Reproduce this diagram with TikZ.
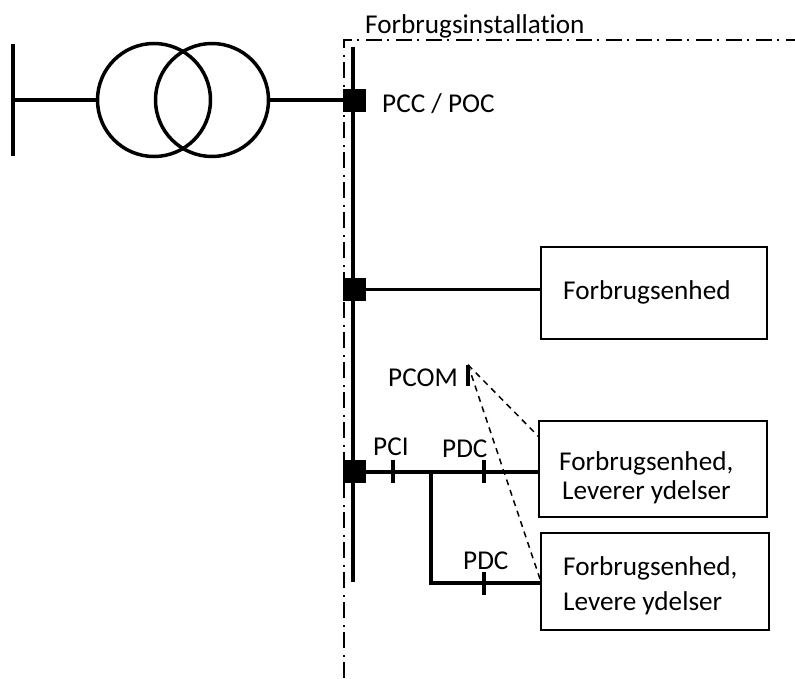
\documentclass[tikz,border=0pt]{standalone}
\usepackage{fontspec}
\setmainfont{Carlito}[Ligatures=CommonOff]
\tikzset{%
    bar/.style = {line width=4pt},
    thinbar/.style = {line width=3.5pt},
    boundary/.style = {line width=1.5pt, dash pattern=on 16pt off 5pt on 2pt off 7pt},
    signal/.style = {line width=1.5pt, dash pattern=on 6pt off 5pt},
    winding/.style = {circle, draw, line width=3.5pt, minimum size=113pt, inner sep=0pt},
    junction/.style = {rectangle, fill=black, minimum size=23pt, inner sep=0pt},
    tick/.style = {rectangle, fill=black, minimum width=3.5pt, minimum height=23pt, inner sep=0pt},
    unit/.style = {rectangle, draw, line width=2pt, inner sep=0pt},
    caption/.style = {anchor=base west, inner sep=0pt, font=\fontsize{27.2}{29}\selectfont, align=left},
}
\begin{document}
\begin{tikzpicture}[x=1pt, y=-1pt]
        \useasboundingbox (0,0) rectangle (795,679);

        % Nodes position
        \node (tfLeft)        [winding] at (154,100) {};
        \node (tfRight)       [winding, right of=tfLeft, node distance=58pt] {};

        \node (pcc)           [junction] at (354.5,100.5) {};
        \node (load)          [junction, below of=pcc, node distance=189pt] {};
        \node (pci)           [junction, below of=load, node distance=182pt] {};

        \node (unitLoad)      [unit, minimum width=226pt, minimum height=92pt] at (654,293) {};
        \node (unitFirst)     [unit, minimum width=228pt, minimum height=96pt] at (653,469) {};
        \node (unitSecond)    [unit, minimum width=228pt, minimum height=97pt] at (655,581.5) {};

        \node (pciTick)       [tick, right of=pci, node distance=38.5pt] {};
        \node (pdcTick)       [tick, right of=pciTick, node distance=91pt] {};
        \node (pdcLowTick)    [tick, below of=pdcTick, node distance=112pt] {};
        \node (pcomTick)      [tick, minimum height=21pt] at (468,375.5) {};

        \coordinate (gridTop)    at (13,44);
        \coordinate (gridBottom) at (13,156);
        \coordinate (busTop)     at (353,47);
        \coordinate (busBottom)  at (353,582);
        \coordinate (branch)     at (431,472);
        \coordinate (branchEnd)  at (431,583);
        \coordinate (fenceEnd)   at (344,678);
        \coordinate (fenceCorner) at (344,40);
        \coordinate (fenceRight) at (795,40);
        \coordinate (signalOne)  at (539,437);
        \coordinate (signalTwo)  at (541,582);

        % Texts
        \node (installText)   [caption] at (365,34) {Forbrugsinstallation};
        \node (pccText)       [caption] at (382,113) {PCC / POC};
        \node (loadText)      [caption] at (563,299) {Forbrugsenhed};
        \node (pcomText)      [caption] at (388,386) {PCOM};
        \node (pciText)       [caption] at (373,455) {PCI};
        \node (pdcText)       [caption] at (442,457) {PDC};
        \node (pdcLowText)    [caption] at (463,569) {PDC};
        \node (firstText)     [caption] at (559,470) {Forbrugsenhed,};
        \node (firstSubText)  [caption] at (562,499) {Leverer ydelser};
        \node (secondText)    [caption] at (563,575) {Forbrugsenhed,};
        \node (secondSubText) [caption] at (563,610) {Levere ydelser};

        % Line specification
        \draw[boundary] (fenceEnd) -- (fenceCorner) -- (fenceRight);
        \draw[bar]      (busTop) -- (busBottom);
        \draw[thinbar]  (gridTop) -- (gridBottom);
        \draw[thinbar]  (gridTop |- tfLeft) -- (tfLeft.west);
        \draw[thinbar]  (tfRight.east) -- (tfRight.east -| pcc);
        \draw[thinbar]  (load) -- (load -| unitLoad.west);
        \draw[bar]      (pci) -- (pci -| unitFirst.west);
        \draw[bar]      (branch) -- (branchEnd) -- (branchEnd -| unitSecond.west);
        \draw[signal]   (pcomTick.north) -- (signalOne);
        \draw[signal]   (pcomTick.north) -- (signalTwo);
    \end{tikzpicture}
\end{document}
